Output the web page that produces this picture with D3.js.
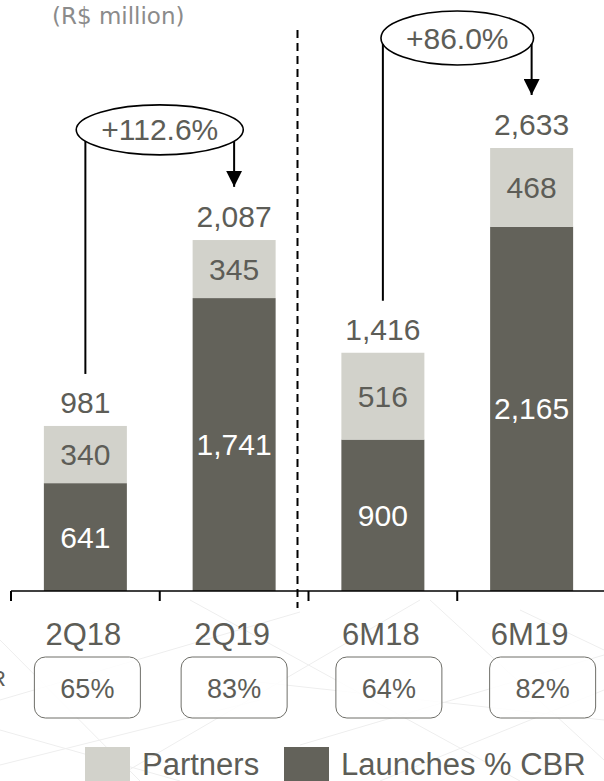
<!DOCTYPE html>
<html>
<head>
<meta charset="utf-8">
<script src="https://cdn.jsdelivr.net/npm/d3@7"></script>
<style>
  html, body { margin: 0; padding: 0; background: #fff; }
  svg { display: block; }
  text { font-family: "Liberation Sans", Arial, Helvetica, sans-serif; }
</style>
</head>
<body>
<div id="chart"></div>
<script>

var categories = ["2Q18", "2Q19", "6M18", "6M19"];
var launches = [641, 1741, 900, 2165];     // dark part
var partners = [340, 345, 516, 468];       // light part
var totals = [981, 2087, 1416, 2633];
var cbrShare = ["65%", "83%", "64%", "82%"];
var growthPairs = [[0, 1], [2, 3]];
var growthLabels = ["+112.6%", "+86.0%"];
var legendLabels = ["Partners", "Launches % CBR"];

var W = 604, H = 781;
var darkCol = "#63625a", lightCol = "#d2d2cb", textCol = "#5d5d57";

var svg = d3.select("#chart").append("svg")
	.attr("width", W)
	.attr("height", H);

// faint background pattern (decoration only)
var deco = [[0,700,300,612],[110,781,420,600],[300,745,604,655],[0,765,260,700],
	[380,781,604,690],[190,600,520,781],[0,640,140,781],[430,600,604,760],
	[240,680,604,720],[0,730,180,781],[520,610,604,650]];
svg.append("g").selectAll("line").data(deco).join("line")
	.attr("x1", function(d){ return d[0]; }).attr("y1", function(d){ return d[1]; })
	.attr("x2", function(d){ return d[2]; }).attr("y2", function(d){ return d[3]; })
	.attr("stroke", "#eeeeee").attr("stroke-width", 1);

var x = d3.scaleBand()
	.domain(categories)
	.range([11, 606])
	.paddingInner(0.442)
	.paddingOuter(0.221);

var y = d3.scaleLinear()
	.domain([0, d3.max(totals)])
	.range([591, 148]);

var fmt = d3.format(",");
var cx = function(i){ return x(categories[i]) + x.bandwidth() / 2; };

function label(sel, size, col){
	return sel.append("text")
		.attr("font-size", size)
		.attr("fill", col)
		.attr("text-anchor", "middle");
}

// bars
var bars = svg.append("g");
categories.forEach(function(c, i){
	bars.append("rect")
		.attr("x", x(c)).attr("width", x.bandwidth())
		.attr("y", y(launches[i])).attr("height", y(0) - y(launches[i]))
		.attr("fill", darkCol);
	bars.append("rect")
		.attr("x", x(c)).attr("width", x.bandwidth())
		.attr("y", y(launches[i] + partners[i])).attr("height", y(launches[i]) - y(launches[i] + partners[i]))
		.attr("fill", lightCol);

	label(bars, 30, "#fff")
		.attr("x", cx(i)).attr("y", (y(0) + y(launches[i])) / 2)
		.attr("dy", "0.35em")
		.text(fmt(launches[i]));
	label(bars, 30, textCol)
		.attr("x", cx(i)).attr("y", (y(launches[i]) + y(launches[i] + partners[i])) / 2)
		.attr("dy", "0.35em")
		.text(fmt(partners[i]));
	label(bars, 30, textCol)
		.attr("x", cx(i)).attr("y", y(totals[i]) - 13)
		.text(fmt(totals[i]));
});

// axis
var axis = svg.append("g").attr("transform", "translate(0," + y(0) + ")")
	.call(d3.axisBottom(x).tickValues([]).tickSize(0).tickSizeOuter(0));
axis.select(".domain").attr("d", "M11,0H604").attr("stroke", "#000").attr("stroke-width", 1.6);
axis.selectAll(".sep").data(categories).join("line")
	.attr("x1", function(d){ return x(d) - x.step() * x.paddingInner() / 2; })
	.attr("x2", function(d){ return x(d) - x.step() * x.paddingInner() / 2; })
	.attr("y1", 0).attr("y2", 10)
	.attr("stroke", "#000").attr("stroke-width", 2);

// divider between quarter and semester
var divX = (x(categories[1]) + x.bandwidth() + x(categories[2])) / 2 - 11;
svg.append("line")
	.attr("x1", divX).attr("x2", divX)
	.attr("y1", 30).attr("y2", 608)
	.attr("stroke", "#000").attr("stroke-width", 2)
	.attr("stroke-dasharray", "8,5");

// category labels
svg.append("g").selectAll("text").data(categories).join("text")
	.attr("x", function(d, i){ return cx(i) - 2; })
	.attr("y", 645)
	.attr("text-anchor", "middle")
	.attr("font-size", 31)
	.attr("fill", textCol)
	.text(function(d){ return d; });

// % CBR boxes
var boxShift = [2, 0, 6, 11];
var boxes = svg.append("g");
cbrShare.forEach(function(s, i){
	var bx = cx(i) + boxShift[i];
	boxes.append("rect")
		.attr("x", bx - 53).attr("y", 657)
		.attr("width", 106).attr("height", 61)
		.attr("rx", 11)
		.attr("fill", "#fff").attr("fill-opacity", 0.85)
		.attr("stroke", "#6e6e68").attr("stroke-width", 1);
	label(boxes, 27, textCol)
		.attr("x", bx).attr("y", 698)
		.text(s);
});

// row label, cut by the left edge as in the source slide
svg.append("text")
	.attr("x", 6).attr("y", 686)
	.attr("text-anchor", "end")
	.attr("font-size", 22)
	.attr("fill", textCol)
	.text("% CBR");

// growth annotations
svg.append("defs").append("marker")
	.attr("id", "arrow")
	.attr("viewBox", "0 0 16 16")
	.attr("refX", 16).attr("refY", 8)
	.attr("markerWidth", 16).attr("markerHeight", 16)
	.attr("markerUnits", "userSpaceOnUse")
	.attr("orient", "auto")
	.append("path").attr("d", "M0,0L16,8L0,16Z").attr("fill", "#000");

var ellipseRy = [25, 27];
growthPairs.forEach(function(p, k){
	var x0 = cx(p[0]), x1 = cx(p[1]);
	var ecx = (x0 + x1) / 2;
	var ecy = y(d3.max([totals[p[0]], totals[p[1]]])) - 110;
	var g = svg.append("g");
	var t = label(g, 30, textCol)
		.attr("x", ecx).attr("y", ecy)
		.attr("dy", "0.35em")
		.text(growthLabels[k]);
	var rx = t.node().getBBox().width / 2 + 25;
	var ry = ellipseRy[k];
	var edge = function(px){
		var dx = (px - ecx) / rx;
		return ecy + ry * Math.sqrt(Math.max(0, 1 - dx * dx));
	};
	g.insert("ellipse", "text")
		.attr("cx", ecx).attr("cy", ecy)
		.attr("rx", rx).attr("ry", ry)
		.attr("fill", "#fff")
		.attr("stroke", "#000").attr("stroke-width", 1.6);
	g.append("line")
		.attr("x1", x0).attr("x2", x0)
		.attr("y1", edge(x0)).attr("y2", y(totals[p[0]]) - 52)
		.attr("stroke", "#000").attr("stroke-width", 2);
	g.append("line")
		.attr("x1", x1).attr("x2", x1)
		.attr("y1", edge(x1)).attr("y2", y(totals[p[1]]) - 53)
		.attr("stroke", "#000").attr("stroke-width", 2)
		.attr("marker-end", "url(#arrow)");
});

// unit note
svg.append("text")
	.attr("x", 52).attr("y", 24)
	.attr("fill", "#8b8b8b")
	.attr("font-size", 23)
	.style("font-family", "'DejaVu Sans', Verdana, sans-serif")
	.text("(R$ million)");

// legend
var legend = svg.append("g");
var legX = [85, 284], legCol = [lightCol, darkCol];
legendLabels.forEach(function(l, i){
	legend.append("rect")
		.attr("x", legX[i]).attr("y", 747)
		.attr("width", 45).attr("height", 45)
		.attr("fill", legCol[i]);
	legend.append("text")
		.attr("x", legX[i] + 57).attr("y", 775)
		.attr("font-size", 31)
		.attr("fill", textCol)
		.text(l);
});

</script>
</body>
</html>
